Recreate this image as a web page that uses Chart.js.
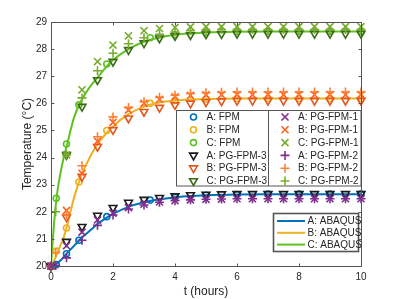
<!DOCTYPE html>
<html lang="en">
<head>
<meta charset="UTF-8">
<title>Temperature vs time</title>
<script src="https://cdn.jsdelivr.net/npm/chart.js"></script>
<style>
  html, body { margin: 0; padding: 0; background: #fff; }
</style>
</head>
<body>
<canvas id="grafico" width="399" height="299"></canvas>
<script>
// ABAQUS reference curves
const tLinea  = [0, 0.1, 0.2, 0.3, 0.4, 0.5, 0.75, 1, 1.25, 1.5, 1.75, 2, 2.5, 3, 3.5, 4, 4.5, 5, 6, 7, 8, 9, 10];
const abaqusA = [20, 20.02, 20.1, 20.2, 20.32, 20.45, 20.75, 21.05, 21.3, 21.55, 21.75, 21.92, 22.18, 22.35, 22.46, 22.53, 22.58, 22.61, 22.64, 22.65, 22.65, 22.65, 22.65];
const abaqusB = [20, 20.2, 20.47, 20.75, 21.02, 21.4, 22.55, 23.4, 24.0, 24.5, 24.85, 25.15, 25.6, 25.88, 26.03, 26.1, 26.14, 26.16, 26.18, 26.18, 26.18, 26.18, 26.18];
const abaqusC = [20, 21.6, 22.7, 23.4, 23.95, 24.4, 25.5, 26.15, 26.6, 26.95, 27.3, 27.6, 28.0, 28.27, 28.43, 28.53, 28.58, 28.61, 28.64, 28.65, 28.65, 28.65, 28.65];

// FPM (circles)
const tFpm = [0, 0.17, 0.5, 0.9, 1.8, 3.2, 4, 5, 6, 7, 8, 9, 10];
const fpmA = [20, 20.05, 20.45, 20.95, 21.82, 22.43, 22.53, 22.61, 22.64, 22.65, 22.65, 22.65, 22.65];
const fpmB = [20, 20.55, 21.4, 23.1, 25.0, 26.0, 26.1, 26.16, 26.18, 26.18, 26.18, 26.18, 26.18];
const fpmC = [20, 22.5, 24.5, 25.95, 27.45, 28.42, 28.53, 28.61, 28.64, 28.65, 28.65, 28.65, 28.65];

// PG-FPM-3 (triangles) and PG-FPM-1 (x)
const tPaso = [0, 0.5, 1, 1.5, 2, 2.5, 3, 3.5, 4, 4.5, 5, 5.5, 6, 6.5, 7, 7.5, 8, 8.5, 9, 9.5, 10];
const pg3A = [20, 20.9, 21.45, 21.86, 22.15, 22.34, 22.45, 22.52, 22.58, 22.62, 22.64, 22.65, 22.66, 22.66, 22.66, 22.66, 22.66, 22.66, 22.66, 22.66, 22.66];
const pg3B = [20, 21.8, 23.3, 24.4, 25.02, 25.45, 25.69, 25.84, 25.94, 26.0, 26.05, 26.08, 26.1, 26.1, 26.1, 26.1, 26.1, 26.1, 26.1, 26.1, 26.1];
const pg3C = [20, 24.1, 25.88, 26.86, 27.54, 27.97, 28.22, 28.4, 28.49, 28.52, 28.55, 28.56, 28.57, 28.57, 28.57, 28.57, 28.57, 28.57, 28.57, 28.57, 28.57];
const pg1A = [20, 20.75, 21.25, 21.7, 21.95, 22.15, 22.28, 22.36, 22.41, 22.44, 22.46, 22.47, 22.48, 22.48, 22.48, 22.48, 22.48, 22.48, 22.48, 22.48, 22.48];
const pg1B = [20, 22.05, 23.42, 24.6, 25.3, 25.75, 26.0, 26.15, 26.24, 26.29, 26.31, 26.32, 26.32, 26.32, 26.32, 26.32, 26.32, 26.32, 26.32, 26.32, 26.32];
const pg1C = [20, 24.1, 26.5, 27.54, 28.15, 28.49, 28.68, 28.76, 28.8, 28.82, 28.83, 28.83, 28.83, 28.83, 28.83, 28.83, 28.83, 28.83, 28.83, 28.83, 28.83];

// PG-FPM-2 (+)
const tCruz = [0, 0.15, 0.5, 1, 1.5, 2, 2.5, 3, 3.5, 4, 4.5, 5, 5.5, 6, 6.5, 7, 7.5, 8, 8.5, 9, 9.5, 10];
const pg2A = [20, 20.02, 20.3, 20.95, 21.5, 21.88, 22.1, 22.25, 22.35, 22.41, 22.44, 22.46, 22.47, 22.48, 22.48, 22.48, 22.48, 22.48, 22.48, 22.48, 22.48, 22.48];
const pg2B = [20, 20.5, 21.9, 23.7, 24.77, 25.5, 25.85, 26.06, 26.22, 26.3, 26.36, 26.39, 26.41, 26.42, 26.42, 26.42, 26.42, 26.42, 26.42, 26.42, 26.42, 26.42];
const pg2C = [20, 22.0, 24.1, 26.2, 27.2, 27.85, 28.2, 28.42, 28.55, 28.63, 28.68, 28.7, 28.72, 28.72, 28.72, 28.72, 28.72, 28.72, 28.72, 28.72, 28.72, 28.72];

const xTicks = [0, 2, 4, 6, 8, 10];
const yTicks = [20, 21, 22, 23, 24, 25, 26, 27, 28, 29];

const azul = '#0072BD', amarillo = '#EDB120', verde = '#5EC21F';
const negro = '#1a1a1a', naranja3 = '#E2571E', verdeOsc = '#3C6B17';
const morado = '#7E2F8E', naranja1 = '#FF5F1F', naranja2 = '#FF7F33', oliva = '#77AC30';
const fuente = '"Liberation Sans", Arial, sans-serif';

function pares(t, y) { return t.map((v, i) => ({ x: v, y: y[i] })); }

function linea(label, t, y, color) {
    return { label, data: pares(t, y), showLine: true, borderColor: color, borderWidth: 2,
        pointRadius: 0, cubicInterpolationMode: 'monotone', order: 10 };
}
function marcas(label, t, y, color, estilo, radio, rot, orden) {
    return { label, data: pares(t, y), showLine: false, borderColor: color,
        backgroundColor: 'rgba(0,0,0,0)', pointBackgroundColor: 'rgba(0,0,0,0)',
        pointBorderColor: color, pointStyle: estilo, pointRadius: radio, pointRotation: rot,
        pointBorderWidth: 1.6, clip: false, order: orden };
}

const datasets = [
    linea('A: ABAQUS', tLinea, abaqusA, azul),
    linea('B: ABAQUS', tLinea, abaqusB, amarillo),
    linea('C: ABAQUS', tLinea, abaqusC, verde),
    marcas('A: FPM', tFpm, fpmA, azul, 'circle', 3, 0, 5),
    marcas('B: FPM', tFpm, fpmB, amarillo, 'circle', 3, 0, 5),
    marcas('C: FPM', tFpm, fpmC, verde, 'circle', 3, 0, 5),
    marcas('A: PG-FPM-3', tPaso, pg3A, negro, 'triangle', 4.5, 180, 4),
    marcas('B: PG-FPM-3', tPaso, pg3B, naranja3, 'triangle', 4.5, 180, 4),
    marcas('C: PG-FPM-3', tPaso, pg3C, verdeOsc, 'triangle', 4.5, 180, 4),
    marcas('A: PG-FPM-1', tPaso, pg1A, morado, 'crossRot', 5, 0, 3),
    marcas('B: PG-FPM-1', tPaso, pg1B, naranja1, 'crossRot', 5, 0, 3),
    marcas('C: PG-FPM-1', tPaso, pg1C, oliva, 'crossRot', 5, 0, 3),
    marcas('A: PG-FPM-2', tCruz, pg2A, morado, 'cross', 4.5, 0, 2),
    marcas('B: PG-FPM-2', tCruz, pg2B, naranja2, 'cross', 4.5, 0, 2),
    marcas('C: PG-FPM-2', tCruz, pg2C, oliva, 'cross', 4.5, 0, 2)
];

// little marker painter for the hand drawn legends
function pintarMarca(ctx, estilo, x, y, color) {
    ctx.strokeStyle = color; ctx.lineWidth = 1.6;
    ctx.beginPath();
    if (estilo === 'circle') {
        ctx.arc(x, y, 3, 0, Math.PI * 2);
    } else if (estilo === 'triangle') {
        ctx.moveTo(x - 3.9, y - 2.3); ctx.lineTo(x + 3.9, y - 2.3); ctx.lineTo(x, y + 4.5); ctx.closePath();
    } else if (estilo === 'crossRot') {
        ctx.moveTo(x - 3.5, y - 3.5); ctx.lineTo(x + 3.5, y + 3.5);
        ctx.moveTo(x - 3.5, y + 3.5); ctx.lineTo(x + 3.5, y - 3.5);
    } else {
        ctx.moveTo(x - 4.5, y); ctx.lineTo(x + 4.5, y);
        ctx.moveTo(x, y - 4.5); ctx.lineTo(x, y + 4.5);
    }
    ctx.stroke();
}

const marcoMatlab = {
    id: 'marcoMatlab',
    afterDatasetsDraw(chart) {
        const { ctx, chartArea: a, scales } = chart;
        ctx.save();
        ctx.strokeStyle = '#555'; ctx.lineWidth = 1;
        const L = Math.round(a.left) + 0.5, R = Math.round(a.right) + 0.5;
        const T = Math.round(a.top) + 0.5, B = Math.round(a.bottom) + 0.5;
        ctx.strokeRect(L, T, R - L, B - T);
        ctx.beginPath();
        scales.x.ticks.forEach(t => {
            const px = Math.round(scales.x.getPixelForValue(t.value)) + 0.5;
            ctx.moveTo(px, B); ctx.lineTo(px, B - 3);
            ctx.moveTo(px, T); ctx.lineTo(px, T + 3);
        });
        scales.y.ticks.forEach(t => {
            const py = Math.round(scales.y.getPixelForValue(t.value)) + 0.5;
            ctx.moveTo(L, py); ctx.lineTo(L + 3, py);
            ctx.moveTo(R, py); ctx.lineTo(R - 3, py);
        });
        ctx.stroke();
        ctx.restore();
    },
    afterDraw(chart) {
        const ctx = chart.ctx;
        ctx.save();
        ctx.font = '10px ' + fuente;
        ctx.textBaseline = 'middle';
        ctx.textAlign = 'left';

        // legend of the numerical methods
        ctx.fillStyle = '#fff';
        ctx.fillRect(176.5, 110.5, 184.5, 75.5);
        ctx.strokeStyle = '#555'; ctx.lineWidth = 1;
        ctx.strokeRect(176.5, 110.5, 184.5, 75.5);
        ctx.beginPath(); ctx.moveTo(268.5, 110.5); ctx.lineTo(268.5, 186); ctx.stroke();
        const izq = datasets.slice(3, 9), der = datasets.slice(9, 15);
        izq.forEach((d, i) => {
            const y = 117 + i * 12.8;
            pintarMarca(ctx, d.pointStyle, 193.5, y, d.borderColor);
            ctx.fillStyle = '#262626'; ctx.fillText(d.label, 206.5, y + 0.5);
        });
        der.forEach((d, i) => {
            const y = 117 + i * 12.8;
            pintarMarca(ctx, d.pointStyle, 285, y, d.borderColor);
            ctx.fillStyle = '#262626'; ctx.fillText(d.label, 298, y + 0.5);
        });

        // legend of the ABAQUS curves
        ctx.fillStyle = '#fff';
        ctx.fillRect(273.5, 213.5, 85, 38);
        ctx.strokeStyle = '#555';
        ctx.strokeRect(273.5, 213.5, 85, 38);
        datasets.slice(0, 3).forEach((d, i) => {
            const y = 221 + i * 11.8;
            ctx.strokeStyle = d.borderColor; ctx.lineWidth = 2;
            ctx.beginPath(); ctx.moveTo(277, y); ctx.lineTo(305, y); ctx.stroke();
            ctx.fillStyle = '#262626'; ctx.fillText(d.label, 307.5, y + 0.5);
        });
        ctx.restore();
    }
};

new Chart(document.getElementById('grafico'), {
    type: 'scatter',
    data: { datasets },
    options: {
        responsive: false,
        animation: false,
        layout: { padding: { left: 0, right: 38, top: 22, bottom: 0 } },
        plugins: { legend: { display: false }, tooltip: { enabled: false } },
        scales: {
            x: {
                min: 0, max: 10,
                afterBuildTicks: s => { s.ticks = xTicks.map(v => ({ value: v })); },
                afterFit: s => { s.height = 33; },
                grid: { display: false, drawTicks: false, tickLength: 0 },
                border: { display: false },
                ticks: { color: '#262626', padding: 5, maxRotation: 0, font: { family: fuente, size: 10 } },
                title: { display: true, text: 't (hours)', color: '#262626', padding: { top: 0, bottom: 0 },
                    font: { family: fuente, size: 12 } }
            },
            y: {
                min: 20, max: 29,
                afterBuildTicks: s => { s.ticks = yTicks.map(v => ({ value: v })); },
                afterFit: s => { s.width = 51; },
                grid: { display: false, drawTicks: false, tickLength: 0 },
                border: { display: false },
                ticks: { color: '#262626', padding: 4, font: { family: fuente, size: 10 } },
                title: { display: true, text: 'Temperature (°C)', color: '#262626', padding: { top: 20, bottom: 0 },
                    font: { family: fuente, size: 12 } }
            }
        }
    },
    plugins: [marcoMatlab]
});
</script>
</body>
</html>
